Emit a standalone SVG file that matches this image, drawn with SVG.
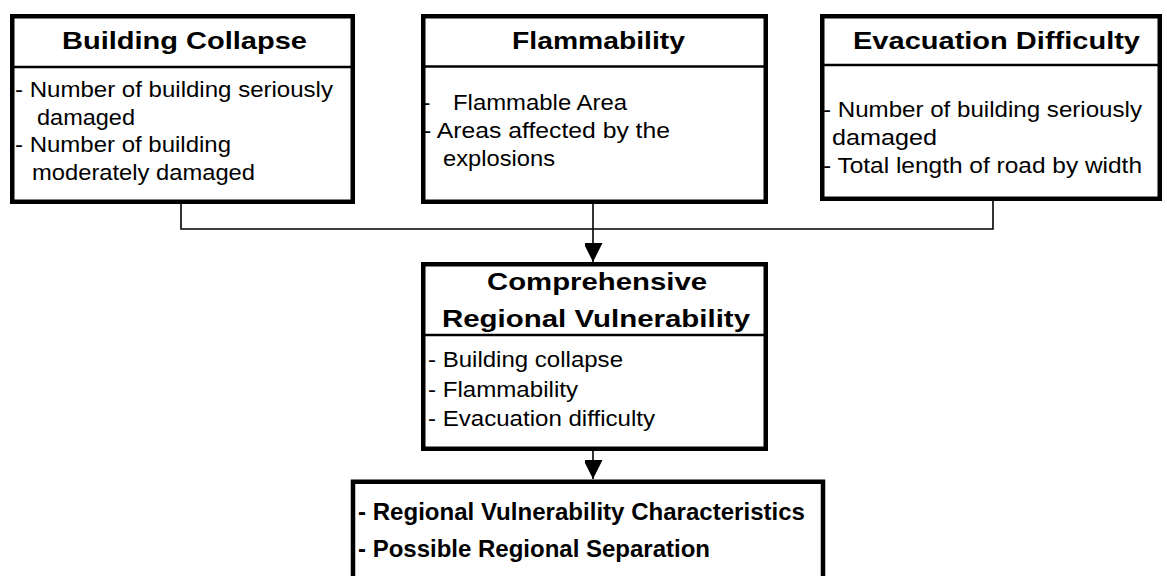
<svg xmlns="http://www.w3.org/2000/svg" width="1167" height="576" viewBox="0 0 1167 576">
<style>
.box{fill:#fff;stroke:#000;stroke-width:4.5}
.div{stroke:#000;stroke-width:2.5}
.title{font-family:"Liberation Sans",Arial,sans-serif;font-weight:bold;font-size:24px;fill:#000}
.body{font-family:"Liberation Sans",Arial,sans-serif;font-size:22px;fill:#000}
.narrow{font-family:"Liberation Sans Narrow","Liberation Sans",Arial,sans-serif;font-weight:bold;font-size:24px;fill:#000}
.conn{fill:none;stroke:#000;stroke-width:1.6}
</style>
<defs>
<marker id="arr" markerUnits="userSpaceOnUse" markerWidth="20" markerHeight="18" refX="19" refY="9.5" orient="auto">
<path d="M0,0 L19,9.5 L0,19 Z" fill="#000"/>
</marker>
</defs>
<g id="connectors">
<polyline class="conn" points="181,203 181,229 993,229 993,200"/>
<line class="conn" x1="593" y1="203" x2="593" y2="262" marker-end="url(#arr)"/>
<line class="conn" x1="593" y1="450" x2="593" y2="479" marker-end="url(#arr)"/>
</g>
<g id="building-collapse">
<rect class="box" x="12.25" y="16.25" width="340.5" height="185.5"/>
<line class="div" x1="12" y1="67" x2="353" y2="67"/>
<text class="title" x="62" y="49" textLength="245" lengthAdjust="spacingAndGlyphs">Building Collapse</text>
<text class="body" x="15" y="96.5" textLength="318" lengthAdjust="spacingAndGlyphs">- Number of building seriously</text>
<text class="body" x="37" y="124.5" textLength="98" lengthAdjust="spacingAndGlyphs">damaged</text>
<text class="body" x="15" y="152" textLength="216" lengthAdjust="spacingAndGlyphs">- Number of building</text>
<text class="body" x="32" y="180" textLength="223" lengthAdjust="spacingAndGlyphs">moderately damaged</text>
</g>
<g id="flammability">
<rect class="box" x="423.25" y="16.25" width="342.5" height="185.5"/>
<line class="div" x1="423" y1="66.5" x2="766" y2="66.5"/>
<text class="title" x="512" y="49" textLength="173" lengthAdjust="spacingAndGlyphs">Flammability</text>
<text class="body" x="423" y="110">-</text>
<text class="body" x="453" y="110" textLength="174" lengthAdjust="spacingAndGlyphs">Flammable Area</text>
<text class="body" x="423" y="138" textLength="247" lengthAdjust="spacingAndGlyphs">- Areas affected by the</text>
<text class="body" x="443" y="166" textLength="112" lengthAdjust="spacingAndGlyphs">explosions</text>
</g>
<g id="evacuation-difficulty">
<rect class="box" x="822.25" y="16.25" width="337.5" height="182.5"/>
<line class="div" x1="822" y1="65" x2="1160" y2="65"/>
<text class="title" x="853" y="49" textLength="287" lengthAdjust="spacingAndGlyphs">Evacuation Difficulty</text>
<text class="body" x="823" y="116.5" textLength="319" lengthAdjust="spacingAndGlyphs">- Number of building seriously</text>
<text class="body" x="832" y="144.5" textLength="105" lengthAdjust="spacingAndGlyphs">damaged</text>
<text class="body" x="823" y="173" textLength="319" lengthAdjust="spacingAndGlyphs">- Total length of road by width</text>
</g>
<g id="comprehensive">
<rect class="box" x="423.25" y="264.25" width="342.5" height="184.5"/>
<line class="div" x1="423" y1="335" x2="766" y2="335"/>
<text class="title" x="487" y="290" textLength="220" lengthAdjust="spacingAndGlyphs">Comprehensive</text>
<text class="title" x="442" y="327" textLength="308" lengthAdjust="spacingAndGlyphs">Regional Vulnerability</text>
<text class="body" x="428" y="367" textLength="195" lengthAdjust="spacingAndGlyphs">- Building collapse</text>
<text class="body" x="428" y="396.5" textLength="150" lengthAdjust="spacingAndGlyphs">- Flammability</text>
<text class="body" x="428" y="426" textLength="227" lengthAdjust="spacingAndGlyphs">- Evacuation difficulty</text>
</g>
<g id="characteristics">
<rect class="box" x="353" y="481.75" width="470" height="120"/>
<text class="narrow" x="358" y="520" textLength="447" lengthAdjust="spacingAndGlyphs">- Regional Vulnerability Characteristics</text>
<text class="narrow" x="358" y="557" textLength="352" lengthAdjust="spacingAndGlyphs">- Possible Regional Separation</text>
</g>
</svg>
